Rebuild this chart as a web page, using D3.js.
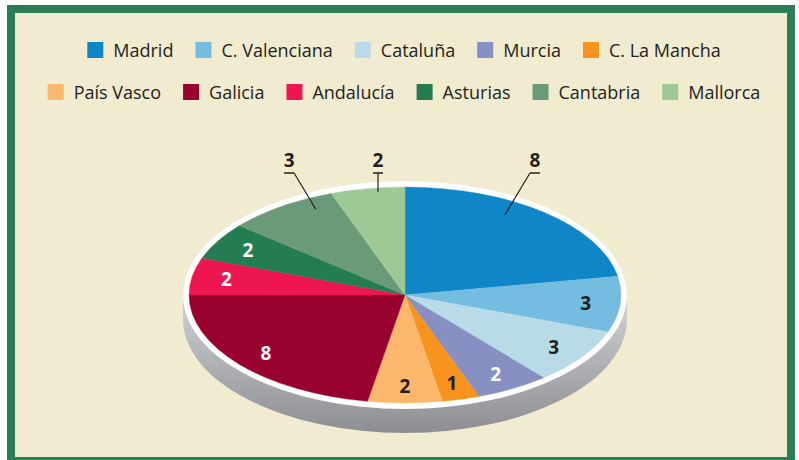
<!DOCTYPE html>
<html>
<head>
<meta charset="utf-8">
<script src="https://cdn.jsdelivr.net/npm/d3@7"></script>
<style>
	body { margin:0; background:#fff; }
	svg { display:block; font-family:"Open Sans", sans-serif; }
</style>
</head>
<body>
<div id="chart"></div>
<script>
	// datos del gráfico
	var regiones = ["Madrid","C. Valenciana","Cataluña","Murcia","C. La Mancha","País Vasco","Galicia","Andalucía","Asturias","Cantabria","Mallorca"];
	var valores = [8,3,3,2,1,2,8,2,2,3,2];
	var colores = ["#0e86c8","#74bde0","#b9dbe8","#8690c2","#f7931e","#fbb76b","#98002e","#ed1651","#237d50","#6a9a77","#9ec996"];
	var fila1 = ["Madrid","C. Valenciana","Cataluña","Murcia","C. La Mancha"];
	var fila2 = ["País Vasco","Galicia","Andalucía","Asturias","Cantabria","Mallorca"];
	// etiquetas claras u oscuras, y cuáles van fuera
	var etiquetaBlanca = ["Murcia","Galicia","Andalucía","Asturias"];
	var etiquetaFuera = ["Madrid","Cantabria","Mallorca"];

	var width = 799, height = 460;
	var cx = 405, cy = 295, rx = 216, ry = 108;
	var ring = 6, depth = 24;

	var svg = d3.select("#chart").append("svg")
		.attr("width", width)
		.attr("height", height);

	// fondo y marco verde
	svg.append("rect").attr("x",11).attr("y",9).attr("width",780).attr("height",452)
		.attr("fill","#f1ebcf").attr("stroke","#2a7d55").attr("stroke-width",8);

	var color = d3.scaleOrdinal().domain(regiones).range(colores);

	// leyenda
	function leyenda(items, y) {
		var g = svg.append("g");
		var x = 0;
		items.forEach(function(d){
			var it = g.append("g").attr("transform","translate("+x+",0)");
			it.append("rect").attr("x",0).attr("y",y-8).attr("width",16).attr("height",16).attr("fill",color(d));
			var t = it.append("text").attr("x",26).attr("y",y+6.5).text(d)
				.attr("font-size",18).attr("fill","#231f20");
			x += 26 + t.node().getComputedTextLength() + 22;
		});
		var total = x - 22;
		g.attr("transform","translate("+(404 - total/2)+",0)");
	}
	leyenda(fila1, 50);
	leyenda(fila2, 92);

	var defs = svg.append("defs");
	var grad = defs.append("linearGradient").attr("id","base").attr("x1",0).attr("y1",0).attr("x2",0).attr("y2",1);
	grad.append("stop").attr("offset","0%").attr("stop-color","#e4e4e6");
	grad.append("stop").attr("offset","55%").attr("stop-color","#c6c7ca");
	grad.append("stop").attr("offset","100%").attr("stop-color","#8d8e92");

	// base gris (cilindro)
	var R = rx + ring, Ry = ry + ring;
	svg.append("path")
		.attr("d", "M"+(cx-R)+","+cy+
			" A"+R+","+Ry+" 0 0 1 "+(cx+R)+","+cy+
			" L"+(cx+R)+","+(cy+depth)+
			" A"+R+","+Ry+" 0 0 1 "+(cx-R)+","+(cy+depth)+" Z")
		.attr("fill","url(#base)");

	// anillo blanco
	svg.append("ellipse").attr("cx",cx).attr("cy",cy).attr("rx",R).attr("ry",Ry).attr("fill","#fff");

	var pie = d3.pie().sort(null).value(function(d){ return d; });
	var arcs = pie(valores);
	var arc = d3.arc().innerRadius(0).outerRadius(rx);

	var pieG = svg.append("g").attr("transform","translate("+cx+","+cy+") scale(1,"+(ry/rx)+")");
	pieG.selectAll("path")
		.data(arcs)
		.enter()
		.append("path")
		.attr("d", arc)
		.attr("fill", function(d,i){ return color(regiones[i]); })
		.attr("stroke", function(d,i){ return color(regiones[i]); })
		.attr("stroke-width", 0.5);

	function punto(a, fx, fy) {
		return [cx + Math.sin(a)*rx*fx, cy - Math.cos(a)*ry*fy];
	}

	// etiquetas
	arcs.forEach(function(d,i){
		var mid = (d.startAngle + d.endAngle)/2;
		var nombre = regiones[i];
		if (etiquetaFuera.indexOf(nombre) >= 0) {
			var p0 = punto(mid, 0.72, 0.97);
			var yE = cy - ry - 14;
			var dx = p0[0] - cx;
			var recto = Math.abs(dx) < 40;
			var xE = recto ? p0[0] : p0[0] + (dx > 0 ? 1 : -1) * (p0[1]-yE) * 0.6;
			svg.append("line").attr("x1",p0[0]).attr("y1",p0[1]).attr("x2",xE).attr("y2",yE)
				.attr("stroke","#231f20").attr("stroke-width",1.2);
			var t0, t1;
			if (recto) { t0 = xE-5; t1 = xE+5; }
			else if (dx > 0) { t0 = xE; t1 = xE+10; }
			else { t0 = xE-10; t1 = xE; }
			svg.append("line").attr("x1",t0).attr("y1",yE).attr("x2",t1).attr("y2",yE)
				.attr("stroke","#231f20").attr("stroke-width",1.5);
			svg.append("text").attr("x",(t0+t1)/2).attr("y",yE-6)
				.attr("text-anchor","middle").attr("font-size",19).attr("font-weight","bold")
				.attr("fill","#231f20").text(valores[i]);
		} else {
			var p = punto(mid, 0.84, 0.84);
			svg.append("text").attr("x",p[0]).attr("y",p[1]+7)
				.attr("text-anchor","middle").attr("font-size",19).attr("font-weight","bold")
				.attr("fill", etiquetaBlanca.indexOf(nombre) >= 0 ? "#fff" : "#231f20")
				.text(valores[i]);
		}
	});
</script>
</body>
</html>
